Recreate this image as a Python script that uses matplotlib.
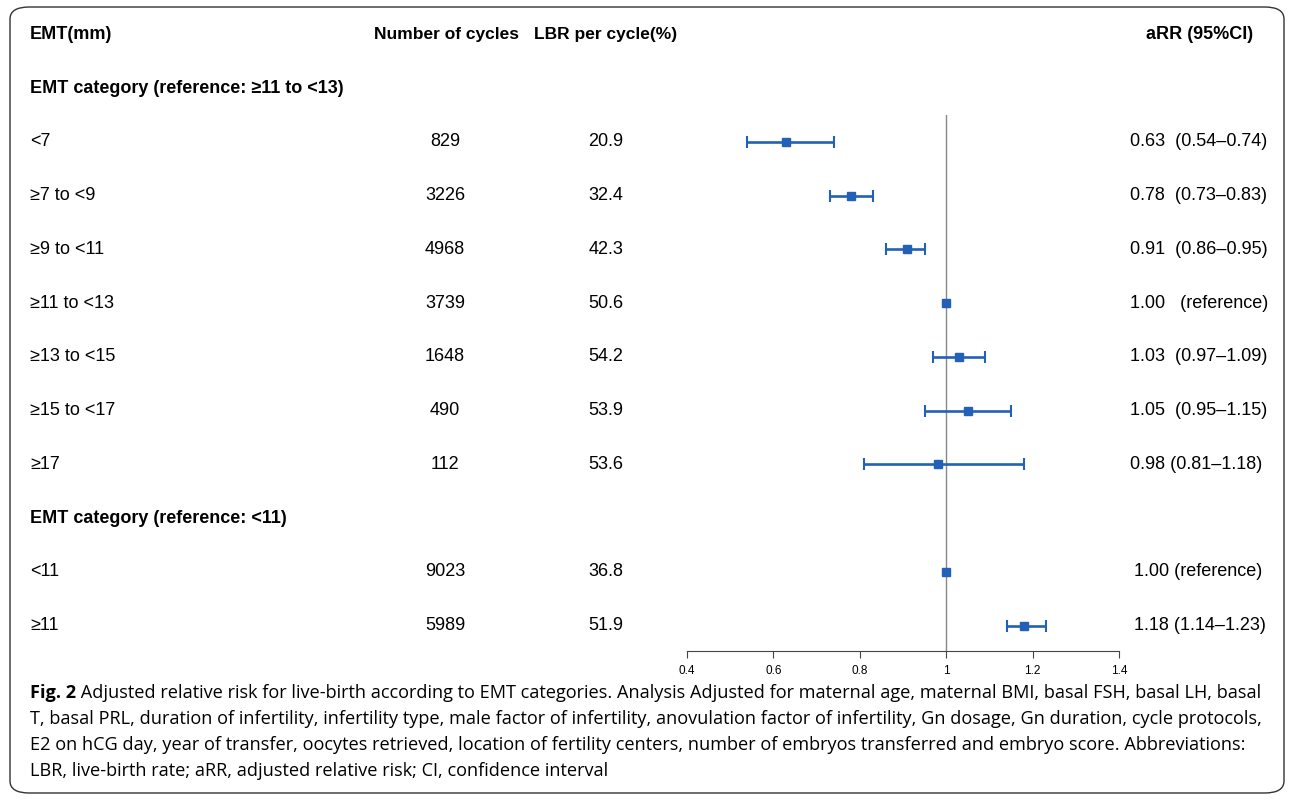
import matplotlib
matplotlib.use('Agg')
import matplotlib.pyplot as plt
import matplotlib.transforms as mtransforms
from matplotlib.patches import FancyBboxPatch

plt.rcParams['font.family'] = ['Liberation Sans', 'DejaVu Sans']

# Dados do forest plot
grupo1_titulo = 'EMT category (reference: \u226511 to <13)'
grupo2_titulo = 'EMT category (reference: <11)'

categorias = ['<7', '\u22657 to <9', '\u22659 to <11', '\u226511 to <13',
              '\u226513 to <15', '\u226515 to <17', '\u226517',
              '<11', '\u226511']
ciclos = [829, 3226, 4968, 3739, 1648, 490, 112, 9023, 5989]
lbr = [20.9, 32.4, 42.3, 50.6, 54.2, 53.9, 53.6, 36.8, 51.9]
arr = [0.63, 0.78, 0.91, 1.00, 1.03, 1.05, 0.98, 1.00, 1.18]
ic_inf = [0.54, 0.73, 0.86, None, 0.97, 0.95, 0.81, None, 1.14]
ic_sup = [0.74, 0.83, 0.95, None, 1.09, 1.15, 1.18, None, 1.23]
arr_texto = ['0.63  (0.54\u20130.74)', '0.78  (0.73\u20130.83)', '0.91  (0.86\u20130.95)',
             '1.00   (reference)', '1.03  (0.97\u20131.09)', '1.05  (0.95\u20131.15)',
             '0.98 (0.81\u20131.18)', '1.00 (reference)', '1.18 (1.14\u20131.23)']
ticks_x = [0.4, 0.6, 0.8, 1, 1.2, 1.4]
tick_labels = ['0.4', '0.6', '0.8', '1', '1.2', '1.4']

# linhas da tabela (0 = cabeçalho, 1 e 9 = títulos de grupo)
linhas = [2, 3, 4, 5, 6, 7, 8, 10, 11]

W, H = 1292, 801
fig = plt.figure(figsize=(W / 100, H / 100), dpi=100)

# moldura arredondada
moldura = FancyBboxPatch((10 / W, 8 / H), 1274 / W, 786 / H,
                         boxstyle='round,pad=0,rounding_size=0.015',
                         transform=fig.transFigure, fill=False,
                         edgecolor='#333333', linewidth=1.0)
fig.patches.append(moldura)

ax = fig.add_axes([687 / W, 1 - 651 / H, 432 / W, 536 / H])
ax.set_xlim(0.4, 1.4)
ax.set_ylim(11.47, 1.5)
for lado in ['top', 'right', 'left']:
    ax.spines[lado].set_visible(False)
ax.spines['bottom'].set_color('#444444')
ax.set_yticks([])
ax.set_xticks(ticks_x)
ax.set_xticklabels(tick_labels, fontsize=8.5)
ax.tick_params(axis='x', length=5, pad=5, color='#444444')
ax.axvline(1, color='#888888', linewidth=1.0, zorder=1)

azul = '#2360b8'
for y, m, lo, hi in zip(linhas, arr, ic_inf, ic_sup):
    if lo is not None:
        ax.errorbar(m, y, xerr=[[m - lo], [hi - m]], fmt='none', ecolor=azul,
                    elinewidth=1.9, capsize=4, capthick=1.5, zorder=2)
    ax.plot(m, y, marker='s', color=azul, markersize=5.8, zorder=3)

# textos das colunas
tr = mtransforms.blended_transform_factory(fig.transFigure, ax.transData)
fs = 13
kw = dict(transform=tr, va='center', fontsize=fs, clip_on=False)

ax.text(30 / W, 0, 'EMT(mm)', ha='left', fontweight='bold', **kw)
ax.text(447 / W, 0, 'Number of cycles', ha='center', fontweight='bold',
        transform=tr, va='center', fontsize=12.5)
ax.text(606 / W, 0, 'LBR per cycle(%)', ha='center', fontweight='bold',
        transform=tr, va='center', fontsize=12.5)
ax.text(1200 / W, 0, 'aRR (95%CI)', ha='center', fontweight='bold', **kw)
ax.text(30 / W, 1, grupo1_titulo, ha='left', fontweight='bold', **kw)
ax.text(30 / W, 9, grupo2_titulo, ha='left', fontweight='bold', **kw)

for i, y in enumerate(linhas):
    ax.text(30 / W, y, categorias[i], ha='left', **kw)
    ax.text(445 / W, y, str(ciclos[i]), ha='center', **kw)
    ax.text(606 / W, y, f'{lbr[i]:.1f}', ha='center', **kw)
    x0 = 1134 if i >= 7 else 1130
    ax.text(x0 / W, y, arr_texto[i], ha='left', **kw)

# legenda da figura
legenda = ['Adjusted relative risk for live-birth according to EMT categories. Analysis Adjusted for maternal age, maternal BMI, basal FSH, basal LH, basal',
           'T, basal PRL, duration of infertility, infertility type, male factor of infertility, anovulation factor of infertility, Gn dosage, Gn duration, cycle protocols,',
           'E2 on hCG day, year of transfer, oocytes retrieved, location of fertility centers, number of embryos transferred and embryo score. Abbreviations:',
           'LBR, live-birth rate; aRR, adjusted relative risk; CI, confidence interval']
cap_fs = 13.1
fig_txt = fig.text(30 / W, 1 - 698 / H, 'Fig. 2', fontsize=cap_fs, fontweight='bold',
                   family='Open Sans', ha='left', va='baseline')
# resto da primeira linha logo após "Fig. 2"
fig.add_artist(plt.Annotation(' ' + legenda[0], xy=(1, 0), xycoords=fig_txt,
                              va='bottom', ha='left', fontsize=cap_fs,
                              family='Open Sans'))
for k, linha in enumerate(legenda[1:]):
    fig.text(30 / W, 1 - (724 + 26 * k) / H, linha, fontsize=cap_fs,
             family='Open Sans', ha='left', va='baseline')

fig.savefig('out.png', dpi=100)
